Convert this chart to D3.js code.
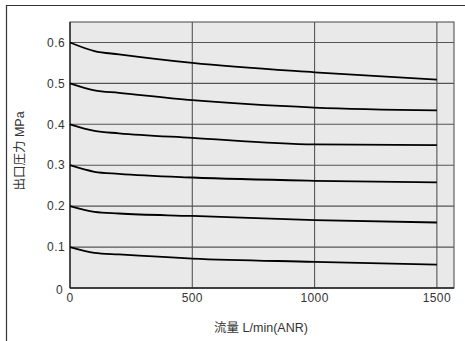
<!DOCTYPE html>
<html>
<head>
<meta charset="utf-8">
<script src="https://cdn.jsdelivr.net/npm/d3@7"></script>
<style>
body{margin:0;background:#fff;}
text{font-family:"Liberation Sans","Noto Sans CJK JP",sans-serif;}
</style>
</head>
<body>
<div id="chart"></div>
<script>
// flow points (L/min ANR) where each curve was read
var flow = [0, 100, 200, 500, 1000, 1500];
// outlet pressure curves, MPa, one per set pressure
var p06 = [0.600, 0.579, 0.571, 0.550, 0.527, 0.509];
var p05 = [0.500, 0.483, 0.477, 0.459, 0.441, 0.434];
var p04 = [0.400, 0.384, 0.378, 0.367, 0.351, 0.349];
var p03 = [0.300, 0.284, 0.279, 0.270, 0.262, 0.258];
var p02 = [0.200, 0.186, 0.182, 0.176, 0.166, 0.160];
var p01 = [0.100, 0.086, 0.082, 0.072, 0.064, 0.057];
var curves = [p06, p05, p04, p03, p02, p01];

var xTicks = [0, 500, 1000, 1500];
var yTicks = [0, 0.1, 0.2, 0.3, 0.4, 0.5, 0.6];

var W = 465, H = 341;
var margin = {top: 22, right: 11, bottom: 53, left: 70},
	width = W - margin.left - margin.right,
	height = H - margin.top - margin.bottom;

var x = d3.scaleLinear().domain([0, 1570]).range([0, width]);
var y = d3.scaleLinear().domain([0, 0.65]).range([height, 0]);

var svg = d3.select("#chart").append("svg")
	.attr("width", W)
	.attr("height", H);

// outer frame (only top and left edges show)
svg.append("path")
	.attr("d", "M6.5," + (H + 2) + "V5.5H" + (W + 2))
	.attr("fill", "none")
	.attr("stroke", "#333")
	.attr("stroke-width", 1.2);

var g = svg.append("g")
	.attr("transform", "translate(" + margin.left + "," + margin.top + ")");

g.append("rect")
	.attr("width", width)
	.attr("height", height)
	.attr("fill", "#e8e9e8");

// grid
g.selectAll(".hgrid")
	.data(yTicks.slice(1))
	.enter().append("line")
	.attr("x1", 0).attr("x2", width)
	.attr("y1", function(d){ return y(d); })
	.attr("y2", function(d){ return y(d); })
	.attr("stroke", "#555").attr("stroke-width", 1.1);

g.selectAll(".vgrid")
	.data(xTicks.slice(1))
	.enter().append("line")
	.attr("y1", 0).attr("y2", height)
	.attr("x1", function(d){ return x(d); })
	.attr("x2", function(d){ return x(d); })
	.attr("stroke", "#555").attr("stroke-width", 1.1);

g.append("rect")
	.attr("width", width)
	.attr("height", height)
	.attr("fill", "none")
	.attr("stroke", "#555")
	.attr("stroke-width", 1.1);

// axes lines (left and bottom darker)
g.append("line").attr("x1", 0).attr("x2", 0).attr("y1", 0).attr("y2", height)
	.attr("stroke", "#222").attr("stroke-width", 1.3);
g.append("line").attr("x1", 0).attr("x2", width).attr("y1", height).attr("y2", height)
	.attr("stroke", "#222").attr("stroke-width", 1.3);

// curves
var line = d3.line()
	.x(function(d, i){ return x(flow[i]); })
	.y(function(d){ return y(d); })
	.curve(d3.curveMonotoneX);

g.selectAll(".curve")
	.data(curves)
	.enter().append("path")
	.attr("d", line)
	.attr("fill", "none")
	.attr("stroke", "#000")
	.attr("stroke-width", 1.8);

// tick labels
g.selectAll(".ylab")
	.data(yTicks)
	.enter().append("text")
	.attr("x", function(d){ return d === 0 ? -7 : -5; })
	.attr("y", function(d){ return y(d) + (d === 0 ? 2 : 0); })
	.attr("dy", "0.35em")
	.attr("text-anchor", "end")
	.style("font-size", "12px")
	.style("letter-spacing", "0.4px")
	.style("fill", "#333")
	.text(function(d){ return d === 0 ? "0" : d3.format(".1f")(d); });

g.selectAll(".xlab")
	.data(xTicks)
	.enter().append("text")
	.attr("x", function(d){ return x(d); })
	.attr("y", height + 10)
	.attr("dy", "0.35em")
	.attr("text-anchor", "middle")
	.style("font-size", "12px")
	.style("letter-spacing", "0.4px")
	.style("fill", "#333")
	.text(function(d){ return d; });

// axis titles
svg.append("text")
	.attr("text-anchor", "middle")
	.attr("transform", "translate(24," + 151 + ")rotate(-90)")
	.style("font-size", "12.5px")
	.style("fill", "#333")
	.text("出口圧力 MPa");

svg.append("text")
	.attr("text-anchor", "middle")
	.attr("x", 261)
	.attr("y", 332)
	.style("font-size", "12.5px")
	.style("fill", "#333")
	.text("流量 L/min(ANR)");
</script>
</body>
</html>
